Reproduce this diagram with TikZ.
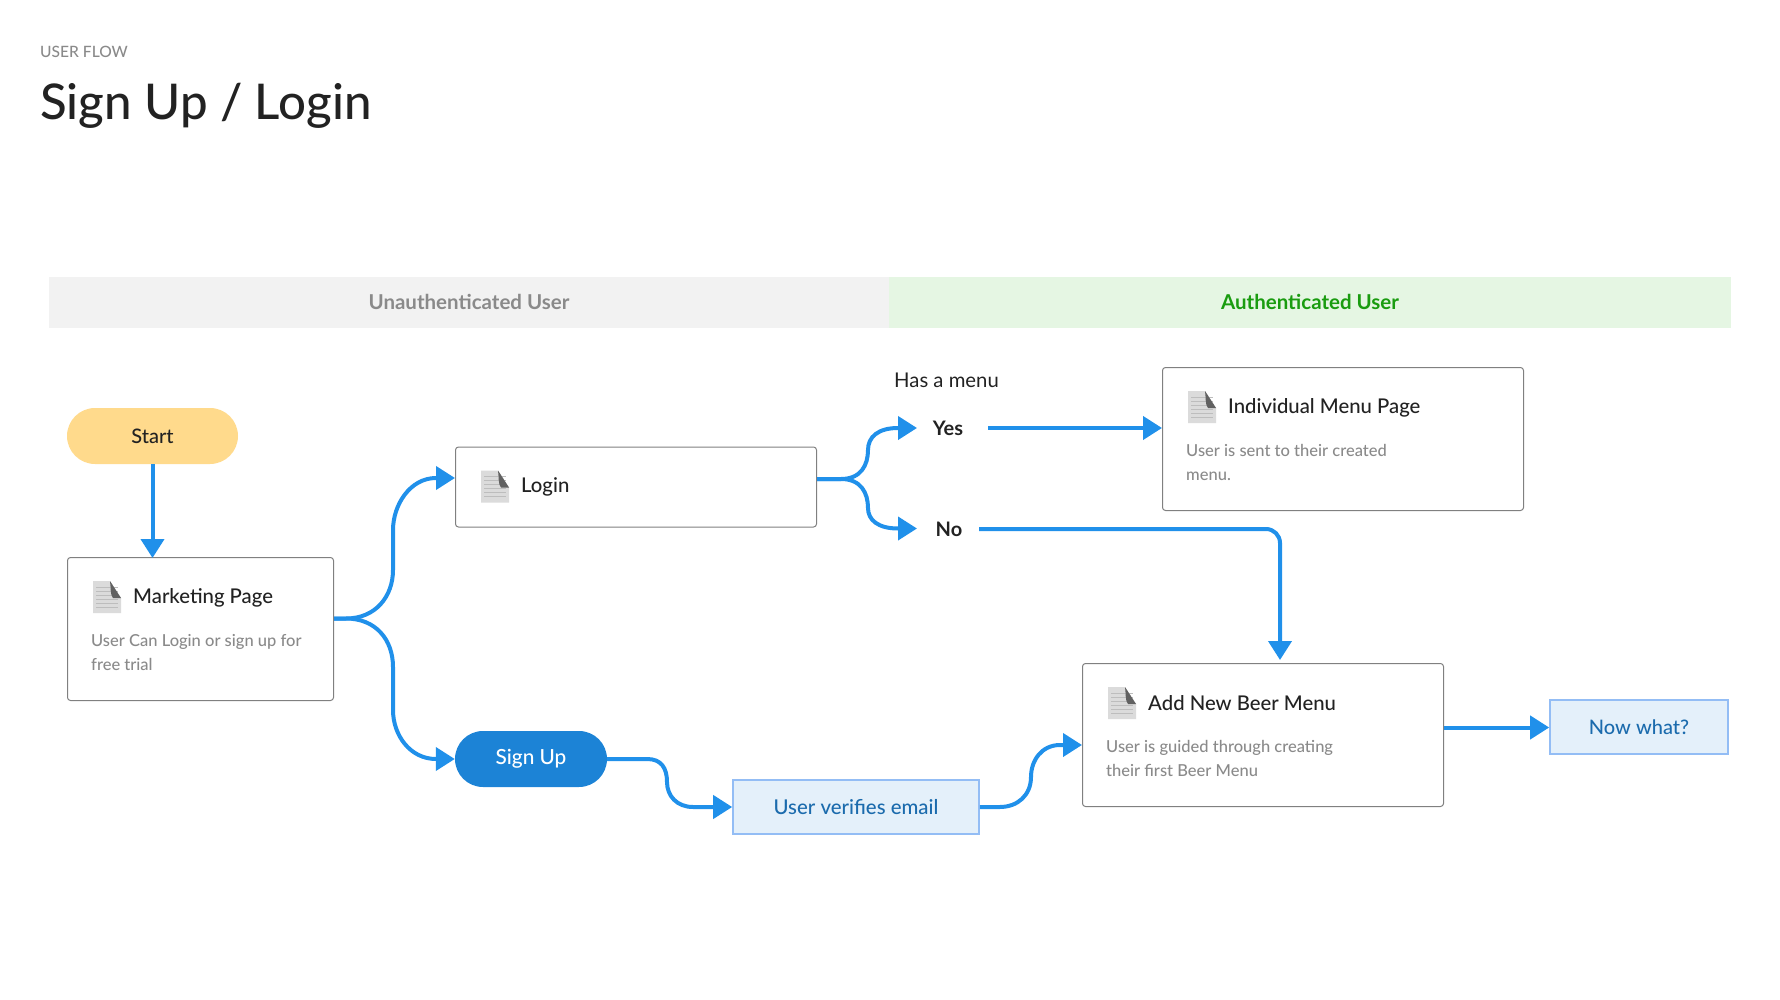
\documentclass[tikz,border=0pt]{standalone}
\usepackage{fontspec}
\setmainfont{Lato}
\newfontfamily\medfont{Lato Medium}
\usetikzlibrary{calc}
\usetikzlibrary{arrows.meta, positioning}

\definecolor{flowblue}{HTML}{2090EA}
\definecolor{startfill}{HTML}{FFDA8C}
\definecolor{signfill}{HTML}{1C83D6}
\definecolor{notefill}{HTML}{E4F0FA}
\definecolor{noteline}{HTML}{93BDF5}
\definecolor{notetext}{HTML}{1B6BAD}
\definecolor{boxline}{HTML}{808080}
\definecolor{inktext}{HTML}{222222}
\definecolor{softtext}{HTML}{8A8A8A}
\definecolor{bandgrey}{HTML}{F2F2F2}
\definecolor{bandgreen}{HTML}{E5F6E3}
\definecolor{greentext}{HTML}{1A9C10}

\tikzset{
    flow/.style={draw=flowblue, line width=4pt, -{Triangle[length=19pt,width=23pt]}},
    band/.style={minimum height=51pt, inner sep=0pt, font=\fontsize{20.5}{24}\selectfont\bfseries},
    pagebox/.style={draw=boxline, line width=1pt, fill=white, rounded corners=3pt, minimum height=143pt, minimum width=360pt, inner sep=0pt},
    pill/.style={rounded corners=28pt, minimum height=56pt, inner sep=0pt, font=\fontsize{20}{24}\medfont},
    note/.style={draw=noteline, line width=1.6pt, fill=notefill, text=notetext, minimum height=54pt, inner sep=0pt, font=\fontsize{20.4}{24}\medfont},
    pagetitle/.style={anchor=west, inner sep=0pt, text=inktext, font=\fontsize{20.3}{24}\medfont},
    pagetext/.style={anchor=north west, inner sep=0pt, align=left, text=softtext, font=\fontsize{16.5}{24}\medfont},
    answer/.style={inner sep=0pt, text=inktext, font=\fontsize{20}{24}\selectfont\bfseries},
    pageicon/.pic={
        \fill[black!14] (0,0) -- (17,0) -- (28,17) -- (28,32) -- (0,32) -- cycle;
        \foreach \y in {6,10,...,26}
            \draw[black!26, line width=0.6pt] (3,\y) -- (25,\y);
        \fill[black!62] (17,0) -- (28,17) -- (20,17) .. controls (17,14) and (18,6) .. (17,0) -- cycle;
    }
}

\begin{document}
\begin{tikzpicture}[x=1pt, y=-1pt]
\useasboundingbox (0,0) rectangle (1780,1000);

% --- Heading ---
\node[anchor=west, inner sep=0pt, text=softtext, font=\fontsize{15.6}{18}\medfont] (kicker) at (40,52) {USER FLOW};
\node[anchor=west, inner sep=0pt, text=inktext, font=\fontsize{49.2}{56}\medfont] (heading) at (40,106) {Sign Up / Login};

% --- Bands ---
\node[band, fill=bandgrey, text=softtext, minimum width=840pt] (guestband) at (469,302.5) {\raisebox{1pt}{Unauthenticated User}};
\node[band, fill=bandgreen, text=greentext, minimum width=842pt] (memberband) at (1310,302.5) {\raisebox{1pt}{Authenticated User}};

% --- Start and pages ---
\node[pill, fill=startfill, text=inktext, minimum width=171pt] (start) at (152.5,436) {Start};
\node[pagebox, minimum width=266pt] (marketing) at (200.5,629) {};
\node[pagebox, minimum height=80pt, minimum width=361pt] (login) at (636,487) {};
\node[pagebox, minimum width=361pt] (menupage) at (1343,439) {};
\node[pagebox, minimum width=361pt] (addmenu) at (1263,735) {};

% Icons and texts of the pages
\foreach \page in {marketing,login,menupage,addmenu}
{
    \pic at ($(\page.north west)+(26,24)$) {pageicon};
}
\node[pagetitle] (marketingname) at ($(marketing.north west)+(66,40.5)$) {Marketing Page};
\node[pagetext, anchor=north west] (marketingnote) at ($(marketing.north west)+(24,77)$) {User Can Login or sign up for\\free trial};
\node[pagetitle] (loginname) at ($(login.north west)+(66,40)$) {Login};
\node[pagetitle] (menuname) at ($(menupage.north west)+(66,40.5)$) {Individual Menu Page};
\node[pagetext] (menunote) at ($(menupage.north west)+(24,77)$) {User is sent to their created\\menu.};
\node[pagetitle] (addname) at ($(addmenu.north west)+(66,40)$) {Add New Beer Menu};
\node[pagetext] (addnote) at ($(addmenu.north west)+(24,77)$) {User is guided through creating\\their first Beer Menu};

% --- Sign up path ---
\node[pill, fill=signfill, text=white, minimum width=152pt, font=\fontsize{20.8}{24}\medfont] (signup) at (531,759) {Sign Up};
\node[note, minimum width=246pt] (verify) at (856,807) {User verifies email};
\node[note, minimum width=178pt, font=\fontsize{20}{24}\medfont] (nowwhat) at (1639,727) {Now what?};

% --- Has a menu ---
\node[anchor=west, inner sep=0pt, text=inktext, font=\fontsize{20.3}{24}\selectfont] (hasmenu) at (894,380) {Has a menu};
\node[answer] (yes) at (948,428) {Yes};
\node[answer] (no) at (949,529) {No};

% --- Ports ---
\coordinate (marketingout) at ($(marketing.east)+(0,-10.5)$);
\coordinate (loginout) at ($(login.east)+(0,-8)$);
\coordinate (yestip) at (917,428);
\coordinate (notip) at (917,528.5);
\coordinate (yesout) at (988,428);
\coordinate (noout) at (979,529);
\coordinate (addtop) at (1280,660);
\coordinate (addout) at ($(addmenu.east)+(0,-7.5)$);

% --- Connectors ---
\draw[flow] (start.south) -- (start.south |- 0,558);
\draw[flow] (marketingout) -- ++(12,0) .. controls ++(30,0) and (393,596) .. (393,570) -- (393,530) .. controls (393,505) and (410,478) .. (436,478) -- (login.west |- 0,478);
\draw[flow] (marketingout) -- ++(12,0) .. controls ++(30,0) and (393,640) .. (393,667) -- (393,710) .. controls (393,735) and (410,759) .. (436,759) -- (signup.west);
\draw[flow] (loginout) -- ++(24,0) .. controls ++(20,0) and (868,465) .. (868,450) .. controls (868,437) and (878,428) .. (898,428) -- (yestip);
\draw[flow] (loginout) -- ++(24,0) .. controls ++(20,0) and (868,493) .. (868,508) .. controls (868,520) and (878,528.5) .. (898,528.5) -- (notip);
\draw[flow] (yesout) -- (menupage.west |- yesout);
\draw[flow, rounded corners=14pt] (noout) -- (1280,529) -- (addtop);
\draw[flow] (signup.east) -- ++(40,0) .. controls ++(14,0) and (667,768) .. (667,782) .. controls (667,796) and (677,807) .. (693,807) -- (verify.west);
\draw[flow] (verify.east) -- ++(20,0) .. controls ++(18,0) and (1031,795) .. (1031,777) .. controls (1031,760) and (1042,745) .. (1060,745) -- (addmenu.west |- 0,745);
\draw[flow] (addout) -- (nowwhat.west |- addout);

\end{tikzpicture}
\end{document}
